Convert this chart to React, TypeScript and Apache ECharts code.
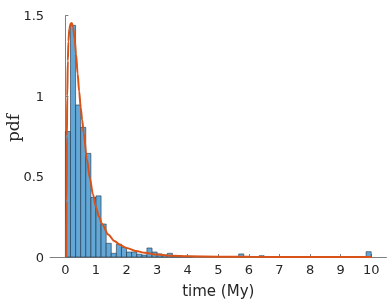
import React, { useEffect, useRef } from "react";
import * as echarts from "echarts";

// Histogram: 60 bins of width 1/6 from 0 to 10 (pdf-normalised heights)
const binStart = 0;
const binWidth = 1 / 6;
const binHeights = [
  0.78, 1.44, 0.945, 0.806, 0.644, 0.37, 0.38, 0.205, 0.085, 0.023,
  0.08, 0.06, 0.031, 0.031, 0.017, 0.012, 0.056, 0.031, 0.019, 0.012,
  0.023, 0.006, 0.006, 0.004, 0.004, 0, 0, 0, 0, 0,
  0, 0, 0, 0, 0.019, 0, 0, 0, 0.008, 0,
  0, 0, 0, 0, 0, 0, 0, 0, 0, 0,
  0, 0, 0, 0, 0, 0, 0, 0, 0, 0.033,
];

// Fitted pdf curve
const curveX = [
  0.03, 0.04, 0.05, 0.06, 0.08, 0.1, 0.13, 0.17, 0.21, 0.25, 0.3, 0.35, 0.4,
  0.45, 0.5, 0.55, 0.6, 0.7, 0.8, 0.9, 1.0, 1.1, 1.2, 1.4, 1.6, 1.8, 2.0, 2.3,
  2.6, 3.0, 3.5, 4.0, 5.0, 6.0, 8.0, 10.0,
];
const curveY = [
  0, 0.35, 0.75, 1.0, 1.22, 1.34, 1.42, 1.45, 1.455, 1.43, 1.36, 1.26, 1.14,
  1.03, 0.93, 0.85, 0.77, 0.61, 0.49, 0.39, 0.31, 0.25, 0.205, 0.14, 0.1,
  0.075, 0.056, 0.038, 0.026, 0.015, 0.008, 0.004, 0.002, 0.001, 0.0005,
  0.0003,
];

const xTicks = [0, 1, 2, 3, 4, 5, 6, 7, 8, 9, 10];

const TEXT = "#262626";
const AXIS = "#808080";

export default function App() {
  const ref = useRef<HTMLDivElement>(null);
  useEffect(() => {
    if (!ref.current) return;
    const chart = echarts.init(ref.current, undefined, { renderer: "svg" });
    const barData = binHeights.map((h, i) => [
      binStart + i * binWidth,
      binStart + (i + 1) * binWidth,
      h,
    ]);
    const lineData = curveX.map((x, i) => [x, curveY[i]]);
    chart.setOption({
      animation: false,
      grid: {
        left: 50.1,
        right: 3.5,
        top: 15.7,
        bottom: 44,
        containLabel: false,
        outerBoundsMode: "none",
      },
      graphic: [
        {
          type: "text",
          x: 13,
          y: 128,
          rotation: Math.PI / 2,
          style: {
            text: "pdf",
            fill: TEXT,
            fontSize: 17,
            fontFamily: "DejaVu Serif",
            align: "center",
            verticalAlign: "middle",
          },
        },
      ],
      xAxis: {
        type: "value",
        min: -0.5,
        max: 10.5,
        name: "time (My)",
        nameLocation: "middle",
        nameGap: 26,
        nameTextStyle: { color: TEXT, fontSize: 15, fontFamily: "DejaVu Sans" },
        axisLine: { show: true, lineStyle: { color: AXIS, width: 1 } },
        axisTick: {
          show: true,
          inside: true,
          length: 3,
          customValues: xTicks,
          lineStyle: { color: AXIS },
        },
        axisLabel: {
          customValues: xTicks,
          color: TEXT,
          fontSize: 13,
          fontFamily: "DejaVu Sans",
          margin: 6,
        },
        splitLine: { show: false },
      },
      yAxis: {
        type: "value",
        min: 0,
        max: 1.5,
        interval: 0.5,
        axisLine: { show: true, lineStyle: { color: AXIS, width: 1 } },
        axisTick: { show: true, inside: true, length: 3, lineStyle: { color: AXIS } },
        axisLabel: {
          color: TEXT,
          fontSize: 13,
          fontFamily: "DejaVu Sans",
          margin: 6,
          formatter: (v: number) => String(v),
        },
        splitLine: { show: false },
      },
      series: [
        {
          type: "custom",
          data: barData,
          encode: { x: [0, 1], y: 2 },
          renderItem: (params: any, api: any) => {
            const h = api.value(2);
            if (!h) return null;
            const p0 = api.coord([api.value(0), 0]);
            const p1 = api.coord([api.value(1), h]);
            return {
              type: "rect",
              shape: { x: p0[0], y: p1[1], width: p1[0] - p0[0], height: p0[1] - p1[1] },
              style: { fill: "#62a7d6", stroke: "#1f3347", lineWidth: 0.6 },
            };
          },
          z: 2,
        },
        {
          type: "line",
          data: lineData,
          showSymbol: false,
          smooth: 0.3,
          smoothMonotone: "x",
          lineStyle: { color: "#D95319", width: 2 },
          z: 3,
        },
      ],
    });
    return () => chart.dispose();
  }, []);
  return (
    <div
      ref={ref}
      style={{ position: "fixed", left: 0, top: 0, width: 390, height: 301 }}
    />
  );
}
